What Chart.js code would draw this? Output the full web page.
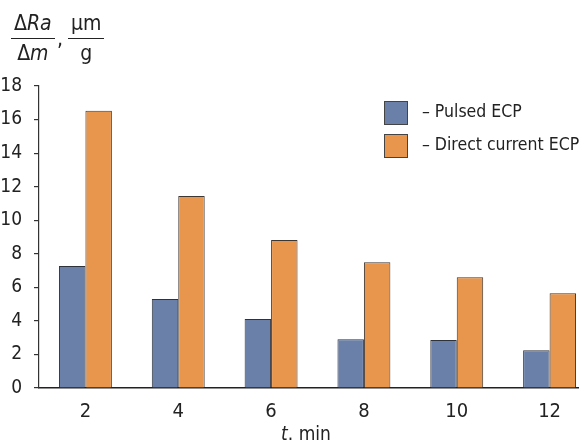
<!DOCTYPE html>
<html>
<head>
<meta charset="utf-8">
<script src="https://cdn.jsdelivr.net/npm/chart.js@4/dist/chart.umd.min.js"></script>
<style>
  html, body { margin: 0; padding: 0; background: #fff; overflow: hidden; width: 579px; height: 445px; }
  body { position: relative; font-family: "DejaVu Sans Condensed", "Liberation Sans", sans-serif; color: #222; }
  #wrap { position: absolute; left: 0; top: 0; width: 600px; height: 445px; }
  .frac { position: absolute; top: 11px; text-align: center; font-size: 21px; line-height: 24px; }
  .frac .num { display: block; border-bottom: 1.3px solid #222; padding: 0 3px 3px; }
  .frac .den { display: block; padding-top: 2px; }
  .legend { position: absolute; left: 384px; font-size: 17.5px; }
  .legend .box { position: absolute; left: 0; width: 22px; height: 22px; border: 1px solid #444; }
  .legend .lbl { position: absolute; left: 38px; top: 0px; white-space: nowrap; }
  #xtitle { position: absolute; left: 0; width: 612px; top: 422px; text-align: center; font-size: 19px; }
</style>
</head>
<body>
<div id="wrap"><canvas id="chart" width="600" height="445"></canvas></div>

<div class="frac" style="left:11px;"><span class="num">Δ<i>Ra</i></span><span class="den">Δ<i>m</i></span></div>
<div style="position:absolute;left:57px;top:27px;font-size:21px;">,</div>
<div class="frac" style="left:68px;"><span class="num">μm</span><span class="den">g</span></div>

<div class="legend" style="top:101px;"><div class="box" style="background:#6a80a8"></div><div class="lbl">– Pulsed ECP</div></div>
<div class="legend" style="top:134px;"><div class="box" style="background:#e8964e"></div><div class="lbl">– Direct current ECP</div></div>

<div id="xtitle"><i>t</i>. min</div>

<script>
// --- data ---
const times = ['2', '4', '6', '8', '10', '12'];
const pulsedEcp = [7.27, 5.3, 4.11, 2.9, 2.86, 2.25];
const directEcp = [16.53, 11.44, 8.82, 7.5, 6.6, 5.65];
const yTicks = [0, 2, 4, 6, 8, 10, 12, 14, 16, 18];

const FONT = '"DejaVu Sans Condensed", "Liberation Sans", sans-serif';

new Chart(document.getElementById('chart'), {
    type: 'bar',
    data: {
        labels: times,
        datasets: [
            { label: 'Pulsed ECP', data: pulsedEcp, backgroundColor: '#6a80a8', borderColor: '#2e323a', borderWidth: 1 },
            { label: 'Direct current ECP', data: directEcp, backgroundColor: '#e8964e', borderColor: '#3e3630', borderWidth: 1 }
        ]
    },
    options: {
        responsive: false,
        animation: false,
        events: [],
        layout: { padding: { left: 0, top: 86, right: 4, bottom: 0 } },
        plugins: { legend: { display: false }, tooltip: { enabled: false } },
        datasets: { bar: { categoryPercentage: 0.57, barPercentage: 1 } },
        scales: {
            x: {
                grid: { display: false, drawTicks: false },
                border: { display: true, color: '#222', width: 1.6 },
                ticks: { color: '#222', font: { family: FONT, size: 20 }, padding: 12 },
                afterFit: s => { s.height = 57; }
            },
            y: {
                min: 0, max: 18,
                afterBuildTicks: s => { s.ticks = yTicks.map(v => ({ value: v })); },
                grid: { drawOnChartArea: false, drawTicks: true, tickLength: 5, color: '#333', lineWidth: 1.2 },
                border: { display: true, color: '#333', width: 1.2 },
                ticks: { color: '#222', font: { family: FONT, size: 19 }, padding: 12 },
                afterFit: s => { s.width = 39; }
            }
        }
    }
});
</script>
</body>
</html>
